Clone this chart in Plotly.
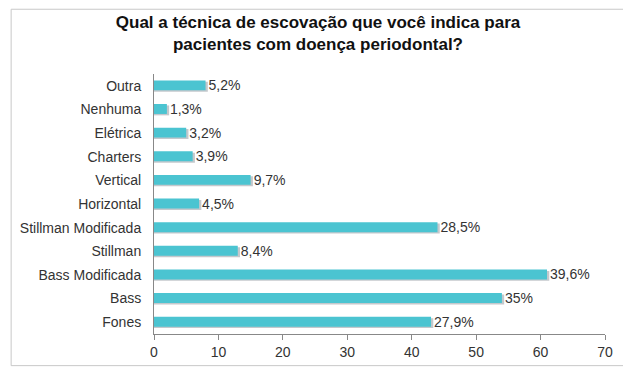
import plotly.graph_objects as go

categories = ["Outra", "Nenhuma", "Elétrica", "Charters", "Vertical", "Horizontal",
              "Stillman Modificada", "Stillman", "Bass Modificada", "Bass", "Fones"]
counts = [8, 2, 5, 6, 15, 7, 44, 13, 61, 54, 43]
pct_labels = ["5,2%", "1,3%", "3,2%", "3,9%", "9,7%", "4,5%",
              "28,5%", "8,4%", "39,6%", "35%", "27,9%"]
x_ticks = [0, 10, 20, 30, 40, 50, 60, 70]

# page has an 8px body margin, so the figure itself is 8px smaller on each side
W, H = 623, 364
ml, mr, mt, mb = 144, 26, 66, 35
pw, ph = W - ml - mr, H - mt - mb

def px_x(p):
    return (p - ml) / pw

def px_y(p):
    return (H - mb - p) / ph

FONT = "Arial, Liberation Sans, sans-serif"

fig = go.Figure()
# shadow
fig.add_trace(go.Bar(
    y=categories, x=[c + 0.35 for c in counts], orientation="h",
    marker=dict(color="#c4c8cc", line=dict(width=0)),
    width=0.42, offset=-0.17, hoverinfo="skip", showlegend=False,
))
fig.add_trace(go.Bar(
    y=categories, x=counts, orientation="h",
    marker=dict(color="#4bc4d1", line=dict(width=0)),
    width=0.42, offset=-0.23,
    text=pct_labels, textposition="outside", cliponaxis=False, constraintext="none",
    textfont=dict(size=14, color="#333333", family=FONT),
    showlegend=False,
))

fig.update_layout(
    width=W, height=H,
    margin=dict(l=ml, r=mr, t=mt, b=mb),
    paper_bgcolor="white", plot_bgcolor="white",
    barmode="overlay",
    font=dict(family=FONT, size=14, color="#333333"),
    title=dict(
        text="<b>Qual a técnica de escovação que você indica para<br>pacientes com doença periodontal?</b>",
        x=(318 - 8) / W, xanchor="center", y=1 - 20 / H, yanchor="top",
        font=dict(size=17, color="#111111", family=FONT),
    ),
    xaxis=dict(
        range=[0, 70], tickvals=x_ticks, ticktext=[str(t) for t in x_ticks],
        showgrid=False, zeroline=False, showline=True, linecolor="#888888", linewidth=1,
        ticks="outside", ticklen=5, tickcolor="#888888",
        tickfont=dict(size=14, color="#333333"),
    ),
    yaxis=dict(
        autorange="reversed", showgrid=False, zeroline=False,
        showline=True, linecolor="#888888", linewidth=1,
        ticks="", ticklabelstandoff=9,
        tickfont=dict(size=14, color="#333333"),
    ),
    shapes=[dict(
        type="rect", xref="paper", yref="paper",
        x0=px_x(0.5), x1=px_x(620), y0=px_y(361), y1=px_y(0.5),
        line=dict(color="#c8c8c8", width=1), fillcolor="rgba(0,0,0,0)", layer="above",
    )],
)

fig.write_html("out.html")
